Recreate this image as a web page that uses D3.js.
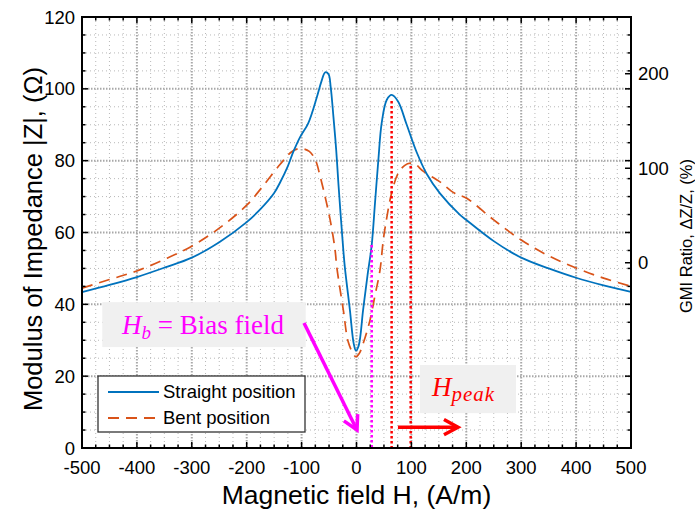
<!DOCTYPE html>
<html><head><meta charset="utf-8">
<script src="https://cdn.jsdelivr.net/npm/d3@7"></script>
<style>
html,body{margin:0;padding:0;background:#fff;}
svg{display:block;font-family:"Liberation Sans",Arial,sans-serif;}
</style></head>
<body>
<svg id="c" width="695" height="514"></svg>
<script>
// ---- data ----
const straightH = [-500,-450,-400,-350,-300,-250,-200,-175,-150,-139,-125,-115,-103,-88,-72,-64,-57,-51,-47,-42,-37,-33,-24,-21,-12,-5,-1,4,12,20,27.7,33.7,39.8,45.9,55,64,76,91,110,128,152,188,200,250,300,350,400,450,500];
const straightZ = [43.4,45.4,47.6,50.2,53.0,57.3,62.9,66.5,71.0,74.0,78.5,82.5,86.5,90.4,97.8,102,104.6,104.1,100.5,92.2,83,73.7,55.1,50,38.4,29,27.1,28.5,38.4,48,56.5,68.2,80.2,90.5,96.9,98.3,96.4,90.2,82.2,76.3,70.9,65,63.5,57.6,53.0,50.0,47.4,45.3,43.5];
const bentH = [-500,-450,-400,-350,-300,-250,-200,-170,-139,-118,-103,-86,-75,-66,-48,-39,-36,-24,-15,-5,-1,5,13,24.6,33.7,42.8,48.8,55,64,76,88,98,107,122,152,179,200,250,300,350,400,450,500];
const bentZ = [44.5,46.9,49.3,52.5,56.2,61.2,67.6,73,79,82.5,83.4,82.6,80.2,75.5,63.5,55.1,50.5,38.4,29.5,26,25.4,26.3,29.5,35.6,42.5,49.5,57.9,64,71,76.5,78.7,79.3,79,77,74.1,70.9,69.6,63.5,57.9,53.5,50.1,47.3,45];
const seriesNames = ["Straight position","Bent position"];
const xTicks = [-500,-400,-300,-200,-100,0,100,200,300,400,500];
const yTicks = [0,20,40,60,80,100,120];
const gmiTicks = [0,100,200];
// annotations (data units: H, Z)
const biasH = 27.7, biasZtop = 56.5;
const peakLines = [[64,96.6],[98.7,78.5]];
const biasArrow = [[-95.6,34.8],[0.9,5]];
const peakArrow = [[75.5,5.8],[184.9,5.8]];
const biasBox = [[-463,40.6],[-92.5,28.1]];
const peakBox = [[115.7,23.1],[290.6,9.7]];
const biasTextPos = [-427,31.7];
const peakTextPos = [137.5,14.5];

// ---- layout ----
const svg = d3.select("#c");
const L=82,R=631,T=17,B=448;
const x = d3.scaleLinear([-500,500],[L,R]);
const y = d3.scaleLinear([0,120],[B,T]);
const yR = d3.scaleLinear([-196,260],[B,T]);
const blue="#0072BD", orange="#D95319";

const xMinor = d3.range(-500,501,25).filter(v=>v%100!==0);
const yMinor = d3.range(0,121,5).filter(v=>v%20!==0);

// grid
const g = svg.append("g");
g.selectAll(".mx").data(xMinor).join("line").attr("x1",d=>x(d)).attr("x2",d=>x(d)).attr("y1",T).attr("y2",B)
 .attr("stroke","#b8b8b8").attr("stroke-width",1).attr("stroke-dasharray","1,3");
g.selectAll(".my").data(yMinor).join("line").attr("y1",d=>y(d)).attr("y2",d=>y(d)).attr("x1",L).attr("x2",R)
 .attr("stroke","#b8b8b8").attr("stroke-width",1).attr("stroke-dasharray","1,3");
g.selectAll(".Mx").data(xTicks.slice(1,-1)).join("line").attr("x1",d=>x(d)).attr("x2",d=>x(d)).attr("y1",T).attr("y2",B)
 .attr("stroke","#a8a8a8").attr("stroke-width",2).attr("stroke-dasharray","1.5,1.5");
g.selectAll(".My").data(yTicks.slice(1,-1)).join("line").attr("y1",d=>y(d)).attr("y2",d=>y(d)).attr("x1",L).attr("x2",R)
 .attr("stroke","#a8a8a8").attr("stroke-width",2).attr("stroke-dasharray","1.5,1.5");

// annotation boxes
function box(b){
  svg.append("rect").attr("x",x(b[0][0])).attr("y",y(b[0][1]))
   .attr("width",x(b[1][0])-x(b[0][0])).attr("height",y(b[1][1])-y(b[0][1])).attr("fill","#f0f0f0");
}
box(biasBox); box(peakBox);

// curves
const line = d3.line().x(d=>x(d[0])).y(d=>y(d[1])).curve(d3.curveCatmullRom.alpha(0.5));
const sData = straightH.map((h,i)=>[h,straightZ[i]]);
const bData = bentH.map((h,i)=>[h,bentZ[i]]);
svg.append("path").datum(bData).attr("d",line).attr("fill","none").attr("stroke",orange).attr("stroke-width",1.7).attr("stroke-dasharray","11,7");
svg.append("path").datum(sData).attr("d",line).attr("fill","none").attr("stroke",blue).attr("stroke-width",1.8);

// dotted guide lines
svg.append("line").attr("x1",x(biasH)).attr("x2",x(biasH)).attr("y1",y(biasZtop)).attr("y2",y(0))
 .attr("stroke","#FF00FF").attr("stroke-width",2.5).attr("stroke-dasharray","2.5,2.5");
peakLines.forEach(p=>{
 svg.append("line").attr("x1",x(p[0])).attr("x2",x(p[0])).attr("y1",y(p[1])).attr("y2",y(0))
  .attr("stroke","#FF0000").attr("stroke-width",2.5).attr("stroke-dasharray","2.5,2.5");
});

// arrows
function arrow(a,col){
  const x1=x(a[0][0]),y1=y(a[0][1]),x2=x(a[1][0]),y2=y(a[1][1]);
  const ang=Math.atan2(y2-y1,x2-x1), hl=16, ha=0.5;
  svg.append("line").attr("x1",x1).attr("y1",y1).attr("x2",x2-Math.cos(ang)*1.5).attr("y2",y2-Math.sin(ang)*1.5)
   .attr("stroke",col).attr("stroke-width",3.5);
  const p=[[x2-hl*Math.cos(ang-ha),y2-hl*Math.sin(ang-ha)],[x2,y2],[x2-hl*Math.cos(ang+ha),y2-hl*Math.sin(ang+ha)]];
  svg.append("path").attr("d",d3.line()(p)).attr("fill","none").attr("stroke",col).attr("stroke-width",3.5)
   .attr("stroke-linejoin","miter").attr("stroke-linecap","butt");
}
arrow(biasArrow,"#FF00FF");
arrow(peakArrow,"#FF0000");

// annotation texts
const tb = svg.append("text").attr("x",x(biasTextPos[0])).attr("y",y(biasTextPos[1]))
 .attr("fill","#FF00FF").attr("font-family","'Liberation Serif','DejaVu Serif',serif").attr("font-size",27);
tb.append("tspan").attr("font-style","italic").text("H");
tb.append("tspan").attr("font-style","italic").attr("font-size",19).attr("dy",5).text("b");
tb.append("tspan").attr("dy",-5).text(" = Bias field");
const tp = svg.append("text").attr("x",x(peakTextPos[0])).attr("y",y(peakTextPos[1]))
 .attr("fill","#FF0000").attr("font-family","'Liberation Serif','DejaVu Serif',serif").attr("font-size",27);
tp.append("tspan").attr("font-style","italic").text("H");
tp.append("tspan").attr("font-style","italic").attr("font-size",21).attr("dy",5).attr("letter-spacing",1).text("peak");

// axes ticks
const ax = svg.append("g");
function ticksX(vals,len,yPos,dir){
  ax.selectAll(null).data(vals).join("line").attr("x1",d=>x(d)).attr("x2",d=>x(d)).attr("y1",yPos).attr("y2",yPos+dir*len)
   .attr("stroke","#000").attr("stroke-width",1.5);
}
function ticksY(vals,sc,len,xPos,dir){
  ax.selectAll(null).data(vals).join("line").attr("y1",d=>sc(d)).attr("y2",d=>sc(d)).attr("x1",xPos).attr("x2",xPos+dir*len)
   .attr("stroke","#000").attr("stroke-width",1.5);
}
ticksX(xTicks,6,B,-1); ticksX(xMinor,3.5,B,-1);
ticksX(xTicks,6,T,1); ticksX(xMinor,3.5,T,1);
ticksY(yTicks,y,6,L,1); ticksY(yMinor,y,3.5,L,1);
ticksY(yTicks,y,6,R,-1); ticksY(yMinor,y,3.5,R,-1);
ticksY(gmiTicks,yR,6,R,-1);
ax.append("rect").attr("x",L).attr("y",T).attr("width",R-L).attr("height",B-T)
 .attr("fill","none").attr("stroke","#000").attr("stroke-width",2);

// tick labels
svg.append("g").selectAll("text").data(xTicks).join("text").attr("x",d=>x(d)).attr("y",B+26)
 .attr("text-anchor","middle").attr("font-size",18.5).text(d=>d);
svg.append("g").selectAll("text").data(yTicks).join("text").attr("x",L-7).attr("y",d=>y(d)+6.5)
 .attr("text-anchor","end").attr("font-size",18.5).text(d=>d);
svg.append("g").selectAll("text").data(gmiTicks).join("text").attr("x",R+7).attr("y",d=>yR(d)+6.5)
 .attr("text-anchor","start").attr("font-size",18.5).text(d=>d);

// titles
svg.append("text").attr("x",(L+R)/2).attr("y",504).attr("text-anchor","middle").attr("font-size",26.5)
 .text("Magnetic field H, (A/m)");
svg.append("text").attr("transform",`translate(42,239) rotate(-90)`).attr("text-anchor","middle").attr("font-size",25.5)
 .text("Modulus of Impedance |Z|, (Ω)");
svg.append("text").attr("transform",`translate(692,236) rotate(-90)`).attr("text-anchor","middle").attr("font-size",16.5)
 .text("GMI Ratio,  ΔZ/Z, (%)");

// legend
const lg = svg.append("g").attr("transform","translate(98,376)");
lg.append("rect").attr("width",207).attr("height",56).attr("fill","#fff").attr("stroke","#333").attr("stroke-width",1.3);
const cols=[blue,orange], dashes=[null,"11,7"];
seriesNames.forEach((n,i)=>{
  lg.append("line").attr("x1",10).attr("x2",61).attr("y1",16+i*26).attr("y2",16+i*26)
   .attr("stroke",cols[i]).attr("stroke-width",1.8).attr("stroke-dasharray",dashes[i]);
  lg.append("text").attr("x",65).attr("y",22+i*26).attr("font-size",18.5).text(n);
});
</script>
</body></html>
